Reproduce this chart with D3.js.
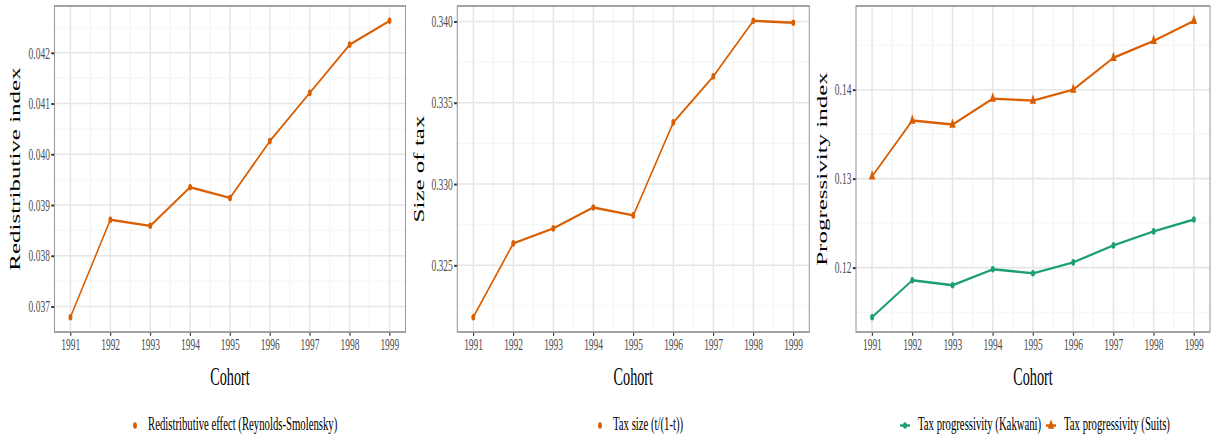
<!DOCTYPE html>
<html>
<head>
<meta charset="utf-8">
<script src="https://cdn.jsdelivr.net/npm/d3@7"></script>
<style>
  html, body { margin: 0; padding: 0; background: #ffffff; }
  svg { display: block; }
  text { font-family: "Liberation Serif", "DejaVu Serif", serif; }
</style>
</head>
<body>
<script>
// ---------------- data ----------------
const cohorts = [1991, 1992, 1993, 1994, 1995, 1996, 1997, 1998, 1999];
const redistributiveEffect = [0.03679, 0.03871, 0.03859, 0.03935, 0.03914, 0.04026, 0.04121, 0.04216, 0.04263];
const taxSize = [0.32181, 0.32635, 0.32727, 0.32856, 0.32807, 0.33379, 0.33662, 0.34004, 0.33992];
const kakwani = [0.11443, 0.11858, 0.11802, 0.11981, 0.11936, 0.12059, 0.12250, 0.12407, 0.12541];
const suits = [0.13026, 0.13653, 0.13608, 0.13899, 0.13877, 0.14000, 0.14359, 0.14549, 0.14774];

const redistTicks = [0.037, 0.038, 0.039, 0.040, 0.041, 0.042];
const taxTicks = [0.325, 0.330, 0.335, 0.340];
const progTicks = [0.12, 0.13, 0.14];
const yearTicks = cohorts;

const ORANGE = "#D95F02";
const GREEN = "#1B9E77";

// ---------------- layout ----------------
const W = 1211, H = 441;
const S = 0.58;               // horizontal compression of the whole picture
const u = v => v / S;          // picture px -> unscaled px

const TOP = 6, BOTTOM = 332;

const panels = [
  {
    left: 54.5, right: 405.5, ytitle: "Redistributive index", ytitleX: 15,
    ticks: redistTicks, fmt: d3.format(".3f"), legendX: 135, legendLine: false,
    series: [{ name: "Redistributive effect (Reynolds-Smolensky)", values: redistributiveEffect, color: ORANGE, shape: "circle" }]
  },
  {
    left: 457.3, right: 809.3, ytitle: "Size of tax", ytitleX: 419,
    ticks: taxTicks, fmt: d3.format(".3f"), legendX: 600, legendLine: false,
    series: [{ name: "Tax size (t/(1-t))", values: taxSize, color: ORANGE, shape: "circle" }]
  },
  {
    left: 856, right: 1210, ytitle: "Progressivity index", ytitleX: 822,
    ticks: progTicks, fmt: d3.format(".2f"), legendX: 905, legendLine: true,
    series: [
      { name: "Tax progressivity (Kakwani)", values: kakwani, color: GREEN, shape: "circle" },
      { name: "Tax progressivity (Suits)", values: suits, color: ORANGE, shape: "triangle" }
    ]
  }
];

const svg = d3.select("body").append("svg").attr("width", W).attr("height", H);
svg.append("rect").attr("width", W).attr("height", H).attr("fill", "#fff");
const root = svg.append("g").attr("transform", `scale(${S},1)`);

function marker(sel, shape, color) {
  if (shape === "circle") {
    sel.append("circle").attr("r", 3.3).attr("fill", color);
  } else {
    sel.append("path").attr("d", d3.symbol(d3.symbolTriangle, 52)()).attr("fill", color);
  }
}

panels.forEach(p => {
  const g = root.append("g");
  const L = u(p.left), R = u(p.right);

  const x = d3.scaleLinear().domain([1990.6, 1999.4]).range([L, R]);
  const all = p.series.flatMap(s => s.values);
  const [mn, mx] = d3.extent(all);
  const pad = (mx - mn) * 0.05;
  const y = d3.scaleLinear().domain([mn - pad, mx + pad]).range([BOTTOM, TOP]);

  // minor grid
  const step = p.ticks[1] - p.ticks[0];
  const yMinor = [];
  for (let v = p.ticks[0] - step * 2.5; v <= p.ticks[p.ticks.length - 1] + step * 2.5; v += step) {
    if (v >= y.domain()[0] && v <= y.domain()[1]) yMinor.push(v);
  }
  const xMinor = d3.range(1991.5, 1999, 1);
  g.append("g").selectAll("line").data(yMinor).join("line")
    .attr("x1", L).attr("x2", R).attr("y1", d => y(d)).attr("y2", d => y(d))
    .attr("stroke", "#f1f1f1").attr("stroke-width", 0.9);
  g.append("g").selectAll("line").data(xMinor).join("line")
    .attr("x1", d => x(d)).attr("x2", d => x(d)).attr("y1", TOP).attr("y2", BOTTOM)
    .attr("stroke", "#f1f1f1").attr("stroke-width", 1.6);

  // major grid
  g.append("g").selectAll("line").data(p.ticks).join("line")
    .attr("x1", L).attr("x2", R).attr("y1", d => y(d)).attr("y2", d => y(d))
    .attr("stroke", "#e6e6e6").attr("stroke-width", 1.6);
  g.append("g").selectAll("line").data(yearTicks).join("line")
    .attr("x1", d => x(d)).attr("x2", d => x(d)).attr("y1", TOP).attr("y2", BOTTOM)
    .attr("stroke", "#e6e6e6").attr("stroke-width", 2.6);

  // axes
  const yAxis = g.append("g").attr("transform", `translate(${L},0)`)
    .call(d3.axisLeft(y).tickValues(p.ticks).tickFormat(p.fmt).tickSize(5.5).tickPadding(2.5));
  yAxis.select(".domain").remove();
  yAxis.selectAll(".tick line").attr("stroke", "#333").attr("stroke-width", 2);
  yAxis.selectAll(".tick text").attr("fill", "#4d4d4d").attr("font-size", 16.3)
    .attr("font-family", "Liberation Serif, serif");

  const xAxis = g.append("g").attr("transform", `translate(0,${BOTTOM})`)
    .call(d3.axisBottom(x).tickValues(yearTicks).tickFormat(d3.format("d")).tickSize(3.7).tickPadding(3.2));
  xAxis.select(".domain").remove();
  xAxis.selectAll(".tick line").attr("stroke", "#333").attr("stroke-width", 2);
  xAxis.selectAll(".tick text").attr("fill", "#4d4d4d").attr("font-size", 16.3)
    .attr("font-family", "Liberation Serif, serif");

  // border
  g.append("rect").attr("x", L).attr("y", TOP).attr("width", R - L).attr("height", BOTTOM - TOP)
    .attr("fill", "none").attr("stroke", "#999").attr("stroke-width", 1.8);

  // series
  const line = d3.line().x((d, i) => x(cohorts[i])).y(d => y(d));
  p.series.forEach(s => {
    g.append("path").datum(s.values).attr("d", line)
      .attr("fill", "none").attr("stroke", s.color).attr("stroke-width", 2.4)
      .attr("stroke-linejoin", "round");
    const pts = g.append("g").selectAll("g").data(s.values).join("g")
      .attr("transform", (d, i) => `translate(${x(cohorts[i])},${y(d)})`);
    pts.each(function () { marker(d3.select(this), s.shape, s.color); });
  });

  // titles
  g.append("text").attr("transform", `translate(${u(p.ytitleX)},${(TOP + BOTTOM) / 2}) rotate(-90)`)
    .attr("text-anchor", "middle").attr("dy", "0.33em").attr("font-size", 25).attr("fill", "#000")
    .text(p.ytitle);
  g.append("text").attr("x", (L + R) / 2).attr("y", 385).attr("text-anchor", "middle")
    .attr("font-size", 24.5).attr("fill", "#000").text("Cohort");

  // legend
  let cx = u(p.legendX);
  const ly = 425.5;
  p.series.forEach(s => {
    const item = g.append("g").attr("transform", `translate(${cx},${ly})`);
    if (p.legendLine) {
      item.append("line").attr("x1", -8.6).attr("x2", 8.6).attr("y1", 0).attr("y2", 0)
        .attr("stroke", s.color).attr("stroke-width", 2.4);
    }
    marker(item, s.shape, s.color);
    const t = item.append("text").attr("x", 22.5).attr("y", 4.8).attr("font-size", 18.5)
      .attr("fill", "#000").text(s.name);
    const tw = t.node().getComputedTextLength();
    cx += 22.5 + tw + 17;
  });
});
</script>
</body>
</html>
